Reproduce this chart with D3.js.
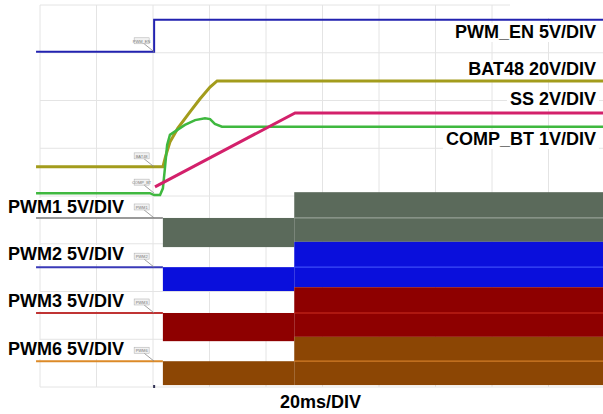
<!DOCTYPE html>
<meta charset="utf-8">
<script src="https://d3js.org/d3.v7.min.js"></script>
<style>
  body { margin: 0; background: #fff; }
  text { font-family: Arial, "Liberation Sans", sans-serif; }
</style>
<div id="scope"></div>
<script>

// time axis in ms (20ms/DIV, 10 divisions), vertical in screen divisions (8)
var timeDivs = d3.range(0, 201, 20);
var levelDivs = d3.range(0, 9, 1);

// analog traces: [time ms, level div]
var pwmEn = [[-1.4, 7.02], [40.4, 7.02], [40.4, 7.69], [200, 7.69]];
var bat48 = [[-1.4, 4.61], [43.5, 4.61], [44.6, 4.86], [46.0, 5.13], [48.8, 5.42], [53.1, 5.76],
             [56.6, 6.03], [60.2, 6.28], [62.7, 6.41], [200, 6.41]];
var ss = [[40.7, 4.19], [90.3, 5.74], [200, 5.74]];
var compBt = [[-1.4, 4.06], [38.9, 4.06], [40.4, 4.02], [42.5, 4.02], [43.5, 4.16], [44.2, 4.57],
              [45.0, 5.07], [46.0, 5.28], [48.5, 5.38], [51.3, 5.49], [54.9, 5.59], [58.4, 5.63],
              [60.2, 5.61], [61.9, 5.51], [64.4, 5.45], [200, 5.45]];

var traceNames = ["PWM_EN 5V/DIV", "BAT48 20V/DIV", "SS 2V/DIV", "COMP_BT 1V/DIV"];
var traceTags = ["PWM_EN", "BAT48", "COMP_BT"];

// PWM channels
var pwmNames = ["PWM1 5V/DIV", "PWM2 5V/DIV", "PWM3 5V/DIV", "PWM6 5V/DIV"];
var pwmTags = ["PWM1", "PWM2", "PWM3", "PWM6"];
var pwmBase = [3.54, 2.51, 1.55, 0.54];
var softBand = [[2.93, 3.54], [2.01, 2.51], [0.96, 1.55], [0.04, 0.54]];   // 43.5 -> 90 ms
var fullBand = [[3.04, 4.08], [2.09, 3.04], [1.05, 2.09], [0.04, 1.05]];   // 90 -> 200 ms
var pwmStart = 43.5, fullStart = 90, tEnd = 200, tBegin = -1.4, trigger = 40.4;

var width = 603, height = 414;

var svg = d3.select("#scope")
  .append("svg")
    .attr("width", width)
    .attr("height", height);

var x = d3.scaleLinear().domain([0, 200]).range([40, 605]);
var y = d3.scaleLinear().domain([0, 8]).range([387, 5]);

// grid
svg.append("g").selectAll("line")
  .data(timeDivs)
  .enter().append("line")
    .attr("x1", function(d) { return x(d); })
    .attr("x2", function(d) { return x(d); })
    .attr("y1", y(8)).attr("y2", y(0))
    .attr("stroke", "#e4e4e4");
svg.append("g").selectAll("line")
  .data(levelDivs)
  .enter().append("line")
    .attr("x1", x(0)).attr("x2", x(200))
    .attr("y1", function(d) { return y(d); })
    .attr("y2", function(d) { return y(d); })
    .attr("stroke", "#e4e4e4");

// PWM bands
var pwmFill = ["#5b6a5b", "#0a0fdc", "#8e0000", "#8c4604"];
var pwmLine = ["#9a9a9a", "#3a3ab8", "#c03434", "#dc8a28"];
var pwmInner = ["#a4aea4", "#4a5cff", "#e03a2a", "#e48a30"];

var bands = svg.append("g");
pwmBase.forEach(function(b, i) {
  bands.append("rect")
    .attr("x", x(pwmStart))
    .attr("width", x(fullStart) - x(pwmStart))
    .attr("y", y(softBand[i][1]))
    .attr("height", y(softBand[i][0]) - y(softBand[i][1]))
    .attr("fill", pwmFill[i]);
});
pwmBase.forEach(function(b, i) {
  bands.append("rect")
    .attr("x", x(fullStart))
    .attr("width", x(tEnd) - x(fullStart))
    .attr("y", y(fullBand[i][1]))
    .attr("height", y(fullBand[i][0]) - y(fullBand[i][1]))
    .attr("fill", pwmFill[i]);
});
pwmBase.forEach(function(b, i) {
  bands.append("line")
    .attr("x1", x(tBegin)).attr("x2", x(pwmStart))
    .attr("y1", y(b)).attr("y2", y(b))
    .attr("stroke", pwmLine[i]).attr("stroke-width", 2);
  bands.append("line")
    .attr("x1", x(fullStart)).attr("x2", x(tEnd))
    .attr("y1", y(b)).attr("y2", y(b))
    .attr("stroke", pwmInner[i]).attr("stroke-width", 1.2)
    .attr("opacity", 0.8);
});

// analog traces
var line = d3.line()
  .x(function(d) { return x(d[0]); })
  .y(function(d) { return y(d[1]); });

svg.append("path").datum(bat48).attr("d", line)
  .attr("fill", "none").attr("stroke", "#a39c1c").attr("stroke-width", 3);
svg.append("path").datum(compBt).attr("d", line)
  .attr("fill", "none").attr("stroke", "#3fb83f").attr("stroke-width", 2.5);
svg.append("path").datum(ss).attr("d", line)
  .attr("fill", "none").attr("stroke", "#d3206b").attr("stroke-width", 3);
svg.append("path").datum(pwmEn).attr("d", line)
  .attr("fill", "none").attr("stroke", "#2222b0").attr("stroke-width", 2);

// small channel tags with leader lines
var tagLevels = [pwmEn[0][1], bat48[0][1], compBt[0][1]].concat(pwmBase);
var tagTexts = traceTags.concat(pwmTags);
var tags = svg.append("g");
tagLevels.forEach(function(lv, i) {
  var ty = y(lv) - 13, tx = x(trigger) - 20;
  tags.append("line")
    .attr("x1", tx + 10).attr("y1", ty + 5)
    .attr("x2", x(trigger)).attr("y2", y(lv))
    .attr("stroke", "#888").attr("stroke-width", 0.8);
  tags.append("rect")
    .attr("x", tx).attr("y", ty - 1)
    .attr("width", 15).attr("height", 6)
    .attr("fill", "#f2f2f2").attr("stroke", "#aaa").attr("stroke-width", 0.5);
  tags.append("text")
    .attr("x", tx + 7.5).attr("y", ty + 4)
    .attr("text-anchor", "middle")
    .style("font-size", "4px").style("fill", "#777")
    .text(tagTexts[i]);
});

// trigger mark at bottom
svg.append("rect").attr("x", x(trigger) - 1).attr("y", y(0) - 2)
  .attr("width", 2).attr("height", 3).attr("fill", "#335");

// white patch top right
svg.append("rect").attr("x", 510).attr("y", 4).attr("width", 93).attr("height", 14).attr("fill", "#fff");

// labels with white backing
function label(txt, lx, ly, anchor) {
  var g = svg.append("g");
  var t = g.append("text")
    .attr("x", lx).attr("y", ly)
    .attr("text-anchor", anchor)
    .style("font-size", "18px").style("font-weight", "bold").style("fill", "#000")
    .text(txt);
  var bb = t.node().getBBox();
  g.insert("rect", "text")
    .attr("x", bb.x - 3).attr("y", bb.y + 1)
    .attr("width", bb.width + 6).attr("height", bb.height - 1)
    .attr("fill", "#fff");
}

var rightY = [38, 75, 105, 145];
traceNames.forEach(function(n, i) { label(n, 596, rightY[i], "end"); });
var leftY = [213, 260, 307, 355];
pwmNames.forEach(function(n, i) { label(n, 8, leftY[i], "start"); });

svg.append("text")
  .attr("x", 280).attr("y", 408)
  .style("font-size", "18px").style("font-weight", "bold")
  .text("20ms/DIV");

</script>
